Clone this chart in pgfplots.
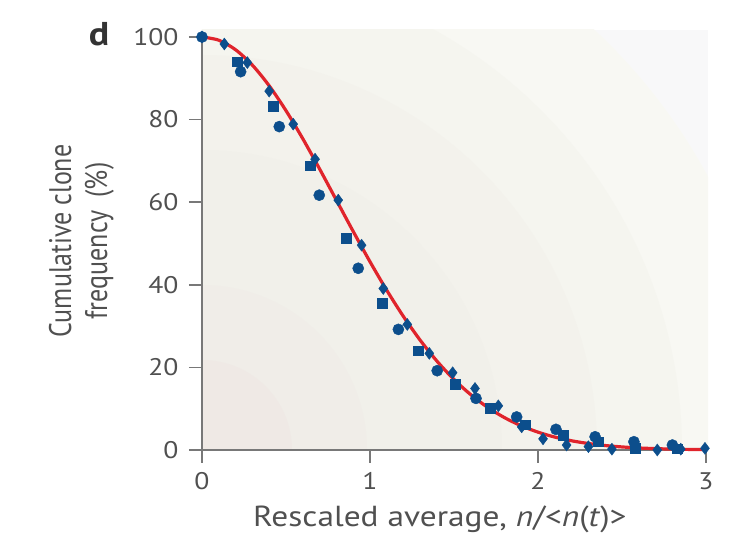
\documentclass[border=0pt]{standalone}
\usepackage{pgfplots}
\pgfplotsset{compat=1.18}
\usepackage{fontspec}
\setmainfont[FakeStretch=1.15]{PT Sans}
\newfontfamily\plainsans{PT Sans}

\definecolor{txt}{RGB}{80,80,80}
\definecolor{axgray}{RGB}{120,120,120}
\definecolor{dotblue}{RGB}{12,78,140}
\definecolor{fitred}{RGB}{224,36,44}
% background rings, outer to inner
\definecolor{bg0}{RGB}{248,248,249}
\definecolor{bg1}{RGB}{248,248,243}
\definecolor{bg2}{RGB}{245,245,239}
\definecolor{bg3}{RGB}{243,242,236}
\definecolor{bg4}{RGB}{241,240,234}
\definecolor{bg5}{RGB}{240,237,232}
\definecolor{bg6}{RGB}{239,233,229}

\pgfplotstableread{
x y
0 100
0.23 91.6
0.46 78.3
0.698 61.7
0.93 44.0
1.169 29.2
1.40 19.2
1.631 12.5
1.873 8.0
2.107 5.0
2.34 3.2
2.571 2.0
2.80 1.2
}\circdata

\pgfplotstableread{
x y
0.21 94.0
0.424 83.3
0.643 68.8
0.857 51.3
1.073 35.5
1.288 24.0
1.506 16.0
1.714 10.1
1.925 6.1
2.15 3.6
2.36 2.0
2.577 0.4
2.83 0.3
}\sqdata

\pgfplotstableread{
x y
0 100
0.133 98.3
0.27 93.8
0.40 86.9
0.543 78.9
0.673 70.4
0.811 60.5
0.95 49.6
1.079 39.1
1.222 30.4
1.353 23.4
1.492 18.7
1.625 14.9
1.764 10.7
1.903 5.6
2.03 2.7
2.17 1.2
2.30 0.8
2.44 0.2
2.575 0.8
2.71 0.0
2.85 0.2
2.994 0.4
}\diadata

\pgfplotstableread{
x y
0 100
0.1 99.22
0.2 96.91
0.3 93.18
0.4 88.19
0.5 82.17
0.6 75.37
0.7 68.05
0.8 60.49
0.9 52.93
1.0 45.59
1.1 38.66
1.2 32.27
1.3 26.52
1.4 21.45
1.5 17.08
1.6 13.39
1.7 10.33
1.8 7.85
1.9 5.87
2.0 4.32
2.1 3.13
2.2 2.23
2.3 1.57
2.4 1.08
2.5 0.74
2.6 0.49
2.7 0.33
2.8 0.21
2.9 0.14
3.0 0.09
}\fitdata

\begin{document}
\begin{tikzpicture}
\useasboundingbox (-202pt,-90pt) rectangle (546pt,450pt);
% faint radial background, centred on the origin
\begin{scope}
  \clip (0,0) rectangle (506pt,420pt);
  \fill[bg0] (0,0) rectangle (506pt,420pt);
  \fill[bg1] (0,0) circle (575pt);
  \fill[bg2] (0,0) circle (480pt);
  \fill[bg3] (0,0) circle (395pt);
  \fill[bg4] (0,0) circle (300pt);
  \fill[bg5] (0,0) circle (165pt);
  \fill[bg6] (0,0) circle (90pt);
\end{scope}
\begin{axis}[
  scale only axis, width=504pt, height=413pt,
  xmin=0, xmax=3, ymin=0, ymax=100,
  xtick={0,1,2,3}, ytick={0,20,40,60,80,100},
  axis x line=bottom, axis y line=left,
  axis line style={-, draw=axgray, line width=1.6pt},
  tick style={draw=axgray, line width=1.6pt},
  tick align=outside, major tick length=13pt,
  clip=false,
  /pgf/number format/assume math mode=true,
  tick label style={font=\fontsize{24}{28}\selectfont, text=txt},
  xticklabel style={yshift=-6pt},
  yticklabel style={xshift=-7pt},
  xlabel={Rescaled average, \textit{n}/<\textit{n}(\textit{t})>},
  xlabel style={font=\fontsize{29}{33}\selectfont, text=txt,
    at={(axis description cs:0.472,0)}, anchor=base, yshift=-77pt},
  ylabel={\scalebox{1}[1.2]{\plainsans\fontsize{26}{30}\selectfont
    \begin{tabular}{@{}c@{}}Cumulative clone\\frequency\enspace(\%)\end{tabular}}},
  ylabel style={text=txt, at={(axis description cs:-0.238,0.506)},
    anchor=center, rotate=0},
]
\addplot[fitred, line width=3.2pt, smooth] table {\fitdata};
\addplot[only marks, mark=diamond*, mark size=6pt, dotblue, mark options={draw=dotblue, fill=dotblue}] table {\diadata};
\addplot[only marks, mark=square*, mark size=4.8pt, dotblue, mark options={draw=dotblue, fill=dotblue}] table {\sqdata};
\addplot[only marks, mark=*, mark size=5.6pt, dotblue, mark options={draw=dotblue, fill=dotblue}] table {\circdata};
\node[font=\fontsize{33}{36}\selectfont\bfseries, text=black!80] at (axis cs:-0.613,100.7) {d};
\end{axis}
\end{tikzpicture}
\end{document}
